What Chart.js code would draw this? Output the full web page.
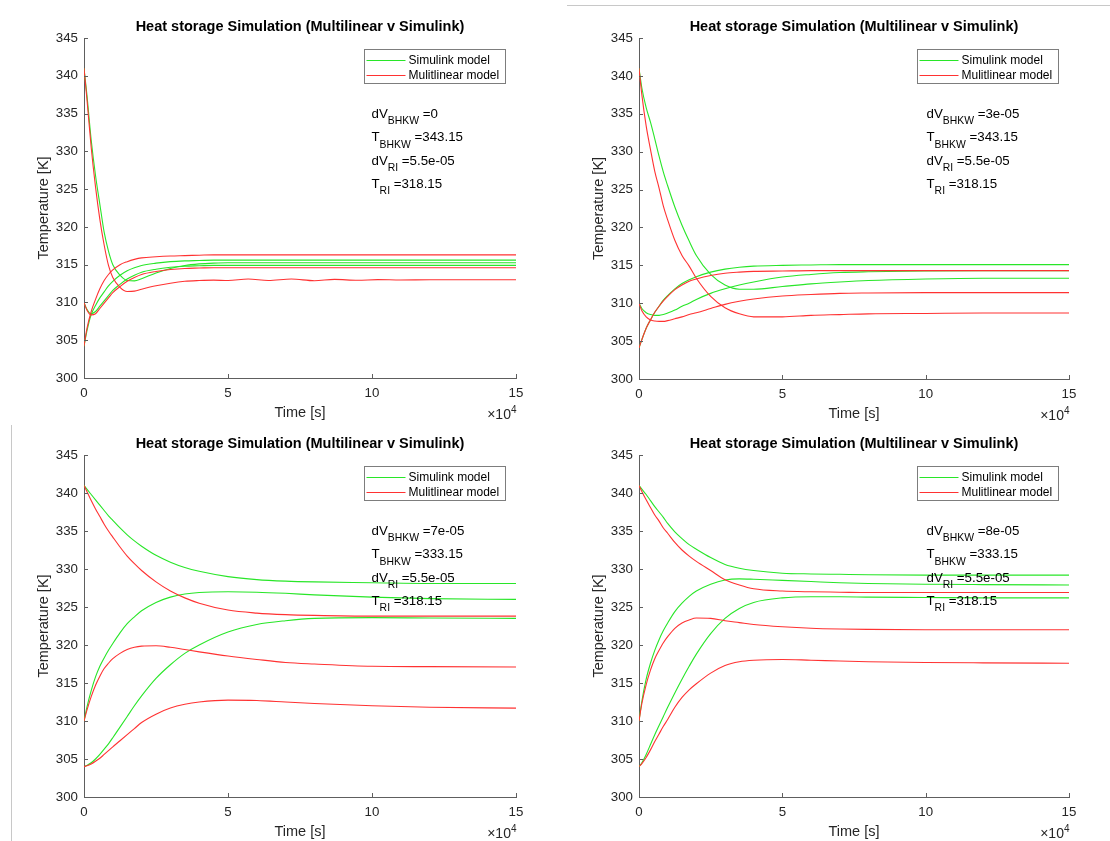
<!DOCTYPE html>
<html><head><meta charset="utf-8">
<script src="https://cdn.jsdelivr.net/npm/chart.js@4.4.1/dist/chart.umd.min.js"></script>
<style>
html,body{margin:0;padding:0;background:#fff;}
body{width:1110px;height:841px;position:relative;overflow:hidden;}
canvas{position:absolute;}
.edge{position:absolute;background:#c8c8c8;}
</style></head><body>
<div class="edge" style="left:567px;top:5px;width:543px;height:1px"></div>
<div class="edge" style="left:11px;top:425px;width:1px;height:416px"></div>
<canvas id="c0"></canvas><canvas id="c1"></canvas><canvas id="c2"></canvas><canvas id="c3"></canvas>
<script>
// ---------- text ----------
const chartTitle = 'Heat storage Simulation (Multilinear v Simulink)';
const xAxisTitle = 'Time [s]';
const yAxisTitle = 'Temperature [K]';
const legendLabels = ['Simulink model', 'Mulitlinear model'];
const xTickValues = [0, 50000, 100000, 150000];
const xTickLabels = ['0', '5', '10', '15'];
const xExponent = '4';
const yTickValues = [300, 305, 310, 315, 320, 325, 330, 335, 340, 345];
const yTickLabels = ['300', '305', '310', '315', '320', '325', '330', '335', '340', '345'];
const annotNames = [['dV', 'BHKW'], ['T', 'BHKW'], ['dV', 'RI'], ['T', 'RI']];
const annotP1 = ['0', '343.15', '5.5e-05', '318.15'];
const annotP2 = ['3e-05', '343.15', '5.5e-05', '318.15'];
const annotP3 = ['7e-05', '333.15', '5.5e-05', '318.15'];
const annotP4 = ['8e-05', '333.15', '5.5e-05', '318.15'];

// ---------- time grids (s) ----------
const timeP1 = [0,1000,2500,4000,5500,7000,8500,10000,12500,15000,17500,20000,25000,30000,35000,40000,45000,50000,57000,64000,72000,80000,87000,95000,102000,110000,120000,135000,150000];
const timeGrid = [0,1000,2500,4000,5500,7000,8500,10000,12500,15000,17500,20000,25000,30000,35000,40000,50000,60000,70000,80000,100000,120000,150000];

// ---------- panel 1 (top left) ----------
const p1Sim1  = [341,337.5,331.5,326.8,323.0,319.3,316.8,315.0,313.6,312.9,312.85,313.15,313.9,314.5,314.9,315.1,315.2,315.25,315.25,315.25,315.25,315.25,315.25,315.25,315.25,315.25,315.25,315.25,315.25];
const p1Sim2  = [310,309.1,308.5,308.8,309.5,310.2,310.9,311.6,312.4,313.1,313.6,314.0,314.4,314.65,314.8,314.85,314.9,314.9,314.9,314.9,314.9,314.9,314.9,314.9,314.9,314.9,314.9,314.9,314.9];
const p1Sim3  = [304.2,306.2,308.4,309.6,310.6,311.4,312.2,312.8,313.6,314.2,314.6,314.9,315.2,315.4,315.5,315.55,315.6,315.6,315.6,315.6,315.6,315.6,315.6,315.6,315.6,315.6,315.6,315.6,315.6];
const p1Mlin1 = [341,337,330.5,325.3,321.0,317.6,314.9,313.3,312.0,311.45,311.5,311.75,312.2,312.55,312.8,312.9,312.95,312.9,313.1,312.9,313.1,312.88,313.05,312.93,313.02,312.97,313.0,313.0,313.0];
const p1Mlin2 = [310,309.0,308.35,308.5,309.2,309.9,310.6,311.3,312.1,312.8,313.3,313.7,314.1,314.35,314.5,314.55,314.6,314.6,314.6,314.6,314.6,314.6,314.6,314.6,314.6,314.6,314.6,314.6,314.6];
const p1Mlin3 = [304.2,306.5,308.8,310.4,311.8,312.9,313.7,314.3,315.0,315.4,315.7,315.9,316.05,316.15,316.2,316.25,316.3,316.3,316.3,316.3,316.3,316.3,316.3,316.3,316.3,316.3,316.3,316.3,316.3];

// ---------- panel 2 (top right) ----------
const p2Sim1  = [341,338.4,335.8,333.9,331.7,329.4,327.3,325.5,322.7,320.3,318.2,316.3,313.8,312.4,311.85,311.85,312.2,312.55,312.8,313.0,313.2,313.3,313.3];
const p2Sim2  = [310,309.3,308.75,308.5,308.4,308.4,308.5,308.7,309.1,309.6,310.0,310.5,311.3,311.9,312.4,312.8,313.45,313.8,314.05,314.15,314.25,314.3,314.3];
const p2Sim3  = [304.1,305.2,306.7,307.8,308.8,309.6,310.4,311.0,311.9,312.6,313.1,313.5,314.1,314.5,314.75,314.9,315.0,315.05,315.1,315.1,315.1,315.1,315.1];
const p2Mlin1 = [341,337.5,333.4,330.3,327.4,325.2,322.8,321.0,318.3,316.3,314.9,313.3,310.9,309.4,308.6,308.2,308.2,308.4,308.5,308.6,308.65,308.7,308.7];
const p2Mlin2 = [310,309.0,308.2,307.8,307.65,307.6,307.6,307.7,307.95,308.2,308.5,308.75,309.3,309.85,310.25,310.55,310.95,311.15,311.3,311.35,311.4,311.4,311.4];
const p2Mlin3 = [304.1,305.2,306.7,307.8,308.8,309.6,310.3,310.9,311.8,312.4,312.9,313.2,313.65,313.95,314.1,314.2,314.25,314.3,314.3,314.3,314.3,314.3,314.3];

// ---------- panel 3 (bottom left) ----------
const p3Sim1  = [341,340.5,339.8,339.1,338.4,337.7,337.0,336.4,335.4,334.5,333.7,333.0,331.8,330.9,330.2,329.7,329.0,328.6,328.4,328.3,328.2,328.1,328.1];
const p3Sim2  = [310,311.8,314.0,315.8,317.2,318.3,319.3,320.2,321.6,322.8,323.7,324.5,325.6,326.3,326.7,326.9,327.0,326.95,326.8,326.6,326.3,326.1,326.0];
const p3Sim3  = [304,304.15,304.5,305.0,305.6,306.3,307.0,307.8,309.2,310.6,312.0,313.3,315.6,317.4,318.9,320.0,321.7,322.7,323.2,323.5,323.6,323.55,323.5];
const p3Mlin1 = [341,340.2,339.0,337.9,336.9,335.9,335.0,334.2,332.9,331.7,330.7,329.8,328.3,327.1,326.2,325.5,324.6,324.2,324.0,323.9,323.8,323.8,323.8];
const p3Mlin2 = [310,311.4,313.2,314.7,315.9,316.9,317.6,318.2,318.9,319.4,319.7,319.85,319.9,319.7,319.4,319.1,318.55,318.1,317.7,317.5,317.2,317.15,317.1];
const p3Mlin3 = [304,304.1,304.35,304.7,305.1,305.6,306.1,306.6,307.4,308.2,309.0,309.8,310.9,311.7,312.2,312.5,312.75,312.7,312.5,312.3,312.0,311.8,311.7];

// ---------- panel 4 (bottom right) ----------
const p4Sim1  = [341,340.5,339.8,339.0,338.2,337.5,336.8,336.0,334.9,334.0,333.2,332.6,331.5,330.6,330.1,329.8,329.45,329.35,329.3,329.25,329.2,329.2,329.2];
const p4Sim2  = [310,312.6,315.5,317.6,319.3,320.7,321.9,322.9,324.4,325.5,326.4,327.1,328.0,328.55,328.7,328.65,328.5,328.35,328.2,328.1,328.0,327.95,327.9];
const p4Sim3  = [304,304.5,305.6,306.9,308.2,309.4,310.6,311.8,313.7,315.5,317.2,318.8,321.5,323.5,324.8,325.6,326.2,326.35,326.35,326.3,326.25,326.2,326.2];
const p4Mlin1 = [341,340.2,339.1,338.1,337.1,336.3,335.4,334.7,333.5,332.5,331.7,331.0,329.8,328.6,327.9,327.4,327.1,327.0,326.95,326.9,326.9,326.9,326.9];
const p4Mlin2 = [310,312.3,314.8,316.7,318.2,319.3,320.3,321.1,322.2,322.9,323.3,323.55,323.5,323.2,322.95,322.7,322.4,322.2,322.1,322.05,322.0,322.0,322.0];
const p4Mlin3 = [304,304.4,305.2,306.2,307.3,308.3,309.3,310.2,311.8,313.1,314.1,314.9,316.3,317.3,317.8,318.0,318.1,318.0,317.9,317.8,317.7,317.65,317.6];

// ---------- styling ----------
const FONT = '"Liberation Sans", Arial, Helvetica, sans-serif';
const GREEN = 'rgb(40,230,40)';
const RED = 'rgb(255,50,50)';
const AXIS = '#5e5e5e';
const TXT = '#262626';
const PADL = 84, PADT = 40, PADR = 44, PADB = 46;

const decoPlugin = {
  id: 'deco',
  afterDraw(chart) {
    const {ctx, chartArea: a, scales: {x, y}} = chart;
    const o = chart.options.plugins.deco;
    ctx.save();
    // inward tick marks
    ctx.strokeStyle = AXIS; ctx.lineWidth = 1;
    ctx.beginPath();
    y.ticks.forEach(t => { const py = Math.round(y.getPixelForValue(t.value)) + 0.5; ctx.moveTo(a.left, py); ctx.lineTo(a.left + 4, py); });
    x.ticks.forEach(t => { const px = Math.round(x.getPixelForValue(t.value)) + 0.5; ctx.moveTo(px, a.bottom); ctx.lineTo(px, a.bottom - 4); });
    ctx.stroke();
    // title
    ctx.fillStyle = '#000';
    ctx.font = 'bold 14.5px ' + FONT;
    ctx.textAlign = 'center'; ctx.textBaseline = 'middle';
    ctx.fillText(chartTitle, (a.left + a.right) / 2, a.top - 11);
    // legend
    const bw = 141, bh = 34;
    const bl = Math.round(a.right - 11 - bw) + 0.5, bt = Math.round(a.top + 10.5) + 0.5;
    ctx.fillStyle = '#fff'; ctx.fillRect(bl, bt, bw, bh);
    ctx.strokeStyle = '#7d7d7d'; ctx.strokeRect(bl, bt, bw, bh);
    const cols = [GREEN, RED];
    ctx.font = '12px ' + FONT; ctx.textAlign = 'left'; ctx.textBaseline = 'middle';
    legendLabels.forEach((lab, i) => {
      const ly = bt + 10 + i * 15.5;
      ctx.strokeStyle = cols[i]; ctx.lineWidth = 1;
      ctx.beginPath(); ctx.moveTo(bl + 2, Math.round(ly) + 0.5); ctx.lineTo(bl + 41, Math.round(ly) + 0.5); ctx.stroke();
      ctx.fillStyle = '#000'; ctx.fillText(lab, bl + 44, ly + 1);
    });
    // annotation text
    const ax = a.left + 287.5;
    annotNames.forEach((nm, i) => {
      const ty = a.top + 76.5 + i * 23.3;
      ctx.font = '13.3px ' + FONT; ctx.fillStyle = '#000';
      ctx.fillText(nm[0], ax, ty);
      let cx = ax + ctx.measureText(nm[0]).width;
      ctx.font = '10.4px ' + FONT;
      ctx.fillText(nm[1], cx, ty + 7);
      cx += ctx.measureText(nm[1]).width;
      ctx.font = '13.3px ' + FONT;
      ctx.fillText(' =' + o.values[i], cx, ty);
    });
    // x exponent
    ctx.fillStyle = TXT;
    ctx.font = '10px ' + FONT; ctx.textAlign = 'right';
    ctx.fillText(xExponent, a.right + 0.5, a.bottom + 32.5);
    const ew = ctx.measureText(xExponent).width;
    ctx.font = '14px ' + FONT;
    ctx.fillText('\u00d710', a.right + 0.5 - ew, a.bottom + 37);
    ctx.restore();
  }
};

function makePanel(id, area, time, sims, mlins, values) {
  const cv = document.getElementById(id);
  const w = area.r - area.l, h = area.b - area.t;
  cv.width = w + PADL + PADR; cv.height = h + PADT + PADB;
  cv.style.left = (area.l - PADL) + 'px'; cv.style.top = (area.t - PADT) + 'px';
  cv.style.width = cv.width + 'px'; cv.style.height = cv.height + 'px';
  const ds = [];
  mlins.forEach(s => ds.push({data: s.map((v, i) => ({x: time[i], y: v})), borderColor: RED}));
  sims.forEach(s => ds.push({data: s.map((v, i) => ({x: time[i], y: v})), borderColor: GREEN}));
  ds.forEach(d => { d.borderWidth = 1.1; d.pointRadius = 0; d.fill = false; d.cubicInterpolationMode = 'monotone'; });
  new Chart(cv, {
    type: 'line',
    data: {datasets: ds},
    plugins: [decoPlugin],
    options: {
      responsive: false, animation: false, devicePixelRatio: 1, events: [],
      layout: {padding: {left: 0, top: PADT, right: PADR, bottom: 0}},
      plugins: {legend: {display: false}, title: {display: false}, tooltip: {enabled: false}, deco: {values}},
      scales: {
        x: {
          type: 'linear', min: 0, max: 150000,
          afterBuildTicks: s => { s.ticks = xTickValues.map(v => ({value: v})); },
          afterFit: s => { s.height = PADB; },
          ticks: {callback: v => xTickLabels[xTickValues.indexOf(v)], font: {family: FONT, size: 13.3}, color: TXT, padding: 7, maxRotation: 0, autoSkip: false},
          grid: {display: false, drawTicks: false},
          border: {display: true, color: AXIS, width: 1},
          title: {display: true, text: xAxisTitle, font: {family: FONT, size: 14.5}, color: TXT, padding: {top: 0, bottom: 2}}
        },
        y: {
          type: 'linear', min: 300, max: 345,
          afterBuildTicks: s => { s.ticks = yTickValues.map(v => ({value: v})); },
          afterFit: s => { s.width = PADL; },
          ticks: {callback: v => yTickLabels[yTickValues.indexOf(v)], font: {family: FONT, size: 13.3}, color: TXT, padding: 6, autoSkip: false},
          grid: {display: false, drawTicks: false},
          border: {display: true, color: AXIS, width: 1},
          title: {display: true, text: yAxisTitle, font: {family: FONT, size: 14.5}, color: TXT, padding: {top: 35, bottom: 0}}
        }
      }
    }
  });
}

makePanel('c0', {l: 84, t: 38, r: 516, b: 378}, timeP1, [p1Sim1, p1Sim2, p1Sim3], [p1Mlin1, p1Mlin2, p1Mlin3], annotP1);
makePanel('c1', {l: 639, t: 38, r: 1069, b: 379}, timeGrid, [p2Sim1, p2Sim2, p2Sim3], [p2Mlin1, p2Mlin2, p2Mlin3], annotP2);
makePanel('c2', {l: 84, t: 455, r: 516, b: 797}, timeGrid, [p3Sim1, p3Sim2, p3Sim3], [p3Mlin1, p3Mlin2, p3Mlin3], annotP3);
makePanel('c3', {l: 639, t: 455, r: 1069, b: 797}, timeGrid, [p4Sim1, p4Sim2, p4Sim3], [p4Mlin1, p4Mlin2, p4Mlin3], annotP4);
</script>
</body></html>
